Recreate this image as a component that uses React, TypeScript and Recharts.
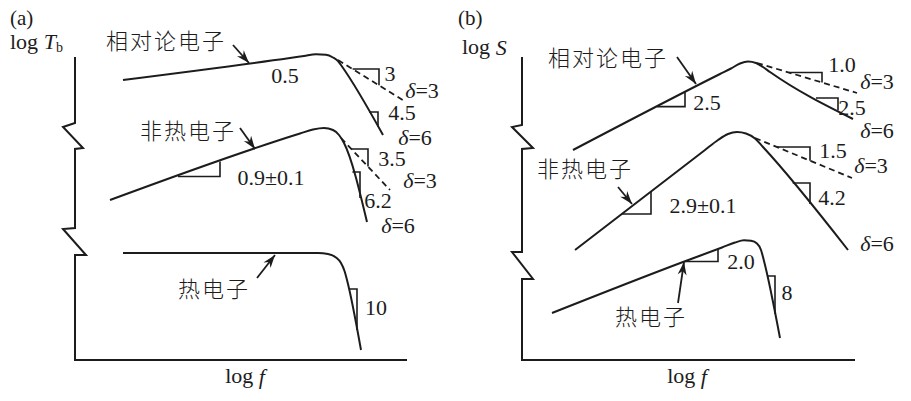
import { LineChart, Line, XAxis, YAxis, Scatter } from "recharts";

type Pt = { x: number; y: number };
type Tag = { x: number; y: number; text: string; sub?: string };

// units: log f and log T / log S in arbitrary decades (schematic)

// ---- panel (a): brightness temperature ----
const axisA: Pt[] = [
  { x: 0, y: 30.3 }, { x: 0, y: 23.7 }, { x: -1.2, y: 23.3 }, { x: 0.8, y: 21.2 },
  { x: 0, y: 21.1 }, { x: 0, y: 13.2 }, { x: -1.2, y: 13.1 }, { x: 1.1, y: 10.5 },
  { x: 0, y: 10.5 }, { x: 0, y: 0 }, { x: 33.2, y: 0 },
];
const relA: Pt[] = [
  { x: 4.8, y: 28.0 }, { x: 21.5, y: 30.2 }, { x: 22.9, y: 30.4 }, { x: 24.1, y: 30.57 },
  { x: 25.1, y: 30.52 }, { x: 25.8, y: 30.25 }, { x: 26.3, y: 29.9 }, { x: 26.7, y: 29.35 },
  { x: 30.8, y: 22.5 },
];
const relA3: Pt[] = [{ x: 26.3, y: 30.0 }, { x: 33.1, y: 25.8 }];
const nthA: Pt[] = [
  { x: 3.5, y: 16.0 }, { x: 22.5, y: 22.65 }, { x: 23.8, y: 23.05 }, { x: 24.9, y: 23.2 },
  { x: 25.8, y: 23.0 }, { x: 26.4, y: 22.5 }, { x: 26.9, y: 21.7 }, { x: 29.2, y: 13.8 },
];
const nthA3: Pt[] = [{ x: 26.6, y: 22.2 }, { x: 31.5, y: 17.0 }];
const thA: Pt[] = [
  { x: 4.8, y: 10.7 }, { x: 24.3, y: 10.7 }, { x: 25.3, y: 10.6 }, { x: 26.1, y: 10.25 },
  { x: 26.6, y: 9.7 }, { x: 26.95, y: 8.9 }, { x: 27.2, y: 8.0 }, { x: 28.6, y: 1.0 },
];
const slopesA: Pt[][] = [
  [{ x: 27.76, y: 29.1 }, { x: 30.4, y: 29.1 }, { x: 30.4, y: 27.47 }],
  [{ x: 29.4, y: 24.8 }, { x: 30.3, y: 24.8 }, { x: 30.3, y: 23.35 }],
  [{ x: 10.3, y: 18.35 }, { x: 14.5, y: 18.35 }, { x: 14.5, y: 19.85 }],
  [{ x: 27.64, y: 21.1 }, { x: 29.3, y: 21.1 }, { x: 29.3, y: 19.34 }],
  [{ x: 27.74, y: 18.8 }, { x: 28.5, y: 18.8 }, { x: 28.5, y: 16.2 }],
  [{ x: 27.38, y: 7.1 }, { x: 28.2, y: 7.1 }, { x: 28.2, y: 3.0 }],
];
const arrowsA: Pt[][] = [
  [{ x: 15.8, y: 31.5 }, { x: 17.4, y: 29.7 }],
  [{ x: 16.5, y: 23.2 }, { x: 18.0, y: 21.1 }],
  [{ x: 18.2, y: 8.2 }, { x: 20.0, y: 10.5 }],
];
const numsA: Tag[] = [
  { x: 21.0, y: 28.5, text: "0.5" },
  { x: 31.5, y: 28.7, text: "3" },
  { x: 32.7, y: 24.8, text: "4.5" },
  { x: 19.6, y: 18.3, text: "0.9±0.1" },
  { x: 31.7, y: 20.15, text: "3.5" },
  { x: 30.3, y: 16.0, text: "6.2" },
  { x: 30.1, y: 5.3, text: "10" },
];
const deltasA: Tag[] = [
  { x: 34.7, y: 27.0, text: "3" },
  { x: 34.0, y: 22.3, text: "6" },
  { x: 34.5, y: 18.0, text: "3" },
  { x: 32.3, y: 13.5, text: "6" },
];
const namesA: Tag[] = [
  { x: 9.1, y: 32.15, text: "相对论电子" },
  { x: 11.3, y: 23.1, text: "非热电子" },
  { x: 13.9, y: 7.3, text: "热电子" },
];
const tagA: Tag[] = [{ x: -6.5, y: 34.2, text: "(a)" }];
const yLabA: Tag[] = [{ x: -6.5, y: 31.9, text: "T", sub: "b" }];
const xLabA: Tag[] = [{ x: 17.0, y: -1.56, text: "f" }];

// ---- panel (b): flux density ----
const axisB: Pt[] = [
  { x: 0, y: 30.3 }, { x: 0, y: 23.5 }, { x: -1.0, y: 23.3 }, { x: 1.1, y: 21.2 },
  { x: 0, y: 21.1 }, { x: 0, y: 10.8 }, { x: -1.0, y: 10.8 }, { x: 1.1, y: 8.1 },
  { x: 0, y: 8.1 }, { x: 0, y: 0 }, { x: 33.3, y: 0 },
];
const relB: Pt[] = [
  { x: 5.1, y: 21.0 }, { x: 19.8, y: 28.6 }, { x: 20.9, y: 29.15 }, { x: 21.8, y: 29.65 },
  { x: 22.6, y: 29.85 }, { x: 23.4, y: 29.7 }, { x: 24.1, y: 29.3 }, { x: 24.8, y: 28.8 },
  { x: 33.1, y: 24.1 },
];
const relB3: Pt[] = [{ x: 23.5, y: 29.7 }, { x: 33.5, y: 26.7 }];
const nthB: Pt[] = [
  { x: 5.3, y: 11.0 }, { x: 18.3, y: 21.0 }, { x: 19.6, y: 22.0 }, { x: 20.6, y: 22.6 },
  { x: 21.5, y: 22.8 }, { x: 22.4, y: 22.65 }, { x: 23.3, y: 22.15 }, { x: 24.1, y: 21.3 },
  { x: 32.6, y: 11.0 },
];
const nthB3: Pt[] = [{ x: 23.3, y: 22.2 }, { x: 33.0, y: 18.2 }];
const thB: Pt[] = [
  { x: 3.0, y: 4.7 }, { x: 16.1, y: 9.8 }, { x: 20.0, y: 11.25 }, { x: 21.3, y: 11.75 },
  { x: 22.2, y: 11.97 }, { x: 22.9, y: 11.92 }, { x: 23.5, y: 11.65 }, { x: 23.9, y: 11.0 },
  { x: 24.2, y: 9.9 }, { x: 25.8, y: 2.2 },
];
const slopesB: Pt[][] = [
  [{ x: 13.5, y: 25.34 }, { x: 16.3, y: 25.34 }, { x: 16.3, y: 26.79 }],
  [{ x: 26.7, y: 28.75 }, { x: 30.0, y: 28.75 }, { x: 30.0, y: 27.75 }],
  [{ x: 29.4, y: 26.2 }, { x: 31.6, y: 26.2 }, { x: 31.6, y: 24.95 }],
  [{ x: 25.5, y: 21.3 }, { x: 28.8, y: 21.3 }, { x: 28.8, y: 19.93 }],
  [{ x: 27.07, y: 17.7 }, { x: 28.8, y: 17.7 }, { x: 28.8, y: 15.6 }],
  [{ x: 10.0, y: 14.6 }, { x: 12.9, y: 14.6 }, { x: 12.9, y: 16.84 }],
  [{ x: 16.3, y: 9.85 }, { x: 19.6, y: 9.85 }, { x: 19.6, y: 11.1 }],
  [{ x: 24.51, y: 8.4 }, { x: 25.3, y: 8.4 }, { x: 25.3, y: 4.61 }],
];
const arrowsB: Pt[][] = [
  [{ x: 15.5, y: 30.3 }, { x: 17.4, y: 27.6 }],
  [{ x: 9.6, y: 17.3 }, { x: 11.0, y: 15.6 }],
  [{ x: 15.6, y: 5.7 }, { x: 16.2, y: 9.8 }],
];
const numsB: Tag[] = [
  { x: 18.5, y: 25.8, text: "2.5" },
  { x: 32.0, y: 29.6, text: "1.0" },
  { x: 33.0, y: 25.3, text: "2.5" },
  { x: 31.1, y: 21.0, text: "1.5" },
  { x: 31.0, y: 16.3, text: "4.2" },
  { x: 18.1, y: 15.5, text: "2.9±0.1" },
  { x: 21.9, y: 9.9, text: "2.0" },
  { x: 26.5, y: 6.8, text: "8" },
];
const deltasB: Tag[] = [
  { x: 35.5, y: 27.9, text: "3" },
  { x: 35.5, y: 23.0, text: "6" },
  { x: 34.9, y: 19.5, text: "3" },
  { x: 35.5, y: 11.7, text: "6" },
];
const namesB: Tag[] = [
  { x: 8.6, y: 30.4, text: "相对论电子" },
  { x: 6.3, y: 19.3, text: "非热电子" },
  { x: 12.9, y: 4.5, text: "热电子" },
];
const tagB: Tag[] = [{ x: -6.4, y: 34.2, text: "(b)" }];
const yLabB: Tag[] = [{ x: -6.0, y: 31.34, text: "S" }];
const xLabB: Tag[] = [{ x: 16.5, y: -1.56, text: "f" }];

const INK = "#1c1c1c";
const SERIF = "'Liberation Serif', 'Times New Roman', serif";
const CJK = "'Noto Sans CJK SC', 'Noto Sans CJK JP', sans-serif";
const serifStyle = { fontFamily: SERIF };
const cjkStyle = { fontFamily: CJK };

const numShape = (p: any) => (
  <text x={p.cx} y={p.cy} textAnchor="middle" dominantBaseline="central"
    style={serifStyle} fontSize={22} fill={INK}>{p.payload.text}</text>
);
const deltaShape = (p: any) => (
  <text x={p.cx} y={p.cy} textAnchor="middle" dominantBaseline="central"
    style={serifStyle} fontSize={22} fill={INK}>
    <tspan fontStyle="italic">δ</tspan>={p.payload.text}
  </text>
);
const nameShape = (p: any) => (
  <text x={p.cx} y={p.cy} textAnchor="middle" dominantBaseline="central"
    style={cjkStyle} fontSize={22} fontWeight={300} letterSpacing={2} fill={INK}>{p.payload.text}</text>
);
const tagShape = (p: any) => (
  <text x={p.cx} y={p.cy} dominantBaseline="central" style={serifStyle} fontSize={21} fill={INK}>
    {p.payload.text}
  </text>
);
const yLabShape = (p: any) => (
  <text x={p.cx} y={p.cy} dominantBaseline="central" style={serifStyle} fontSize={22} fill={INK}>
    log <tspan fontStyle="italic">{p.payload.text}</tspan>
    {p.payload.sub ? <tspan fontSize={14} dy={6}>{p.payload.sub}</tspan> : null}
  </text>
);
const xLabShape = (p: any) => (
  <text x={p.cx} y={p.cy} textAnchor="middle" dominantBaseline="central"
    style={serifStyle} fontSize={22} fill={INK}>
    log <tspan fontStyle="italic">{p.payload.text}</tspan>
  </text>
);

// arrow head on the last point; both axes use the same px per unit
const arrowDot = (seg: Pt[]) => (p: any) => {
  const { cx, cy, index } = p;
  if (index !== seg.length - 1) return <g key={`n${index}`} />;
  const a = seg[seg.length - 2];
  const b = seg[seg.length - 1];
  const dx = b.x - a.x;
  const dy = -(b.y - a.y);
  const len = Math.hypot(dx, dy);
  const ux = dx / len, uy = dy / len;
  const nx = -uy, ny = ux;
  const L = 13, W = 4.5, N = 9;
  const pts = [
    [cx, cy],
    [cx - L * ux + W * nx, cy - L * uy + W * ny],
    [cx - N * ux, cy - N * uy],
    [cx - L * ux - W * nx, cy - L * uy - W * ny],
  ].map((q) => q.join(",")).join(" ");
  return <polygon key={`h${index}`} points={pts} fill={INK} />;
};

type PanelProps = {
  width: number;
  xDomain: [number, number];
  axis: Pt[];
  solids: Pt[][];
  dashes: Pt[][];
  slopes: Pt[][];
  arrows: Pt[][];
  nums: Tag[];
  deltas: Tag[];
  names: Tag[];
  tag: Tag[];
  yLab: Tag[];
  xLab: Tag[];
};

const Panel = (props: PanelProps) => {
  return (
    <LineChart width={props.width} height={401} margin={{ top: 0, right: 0, bottom: 0, left: 0 }}>
      <XAxis type="number" dataKey="x" domain={props.xDomain} allowDataOverflow hide />
      <YAxis type="number" dataKey="y" domain={[-4.1, 36.0]} allowDataOverflow hide />
      <Line data={props.axis} dataKey="y" type="linear" stroke={INK} strokeWidth={2}
        dot={false} activeDot={false} isAnimationActive={false} />
      {props.solids.map((d, i) => (
        <Line key={`s${i}`} data={d} dataKey="y" type="monotone" stroke={INK} strokeWidth={2}
          dot={false} activeDot={false} isAnimationActive={false} />
      ))}
      {props.dashes.map((d, i) => (
        <Line key={`d${i}`} data={d} dataKey="y" type="linear" stroke={INK} strokeWidth={1.8}
          strokeDasharray="6 4" dot={false} activeDot={false} isAnimationActive={false} />
      ))}
      {props.slopes.map((d, i) => (
        <Line key={`t${i}`} data={d} dataKey="y" type="linear" stroke={INK} strokeWidth={1.6}
          dot={false} activeDot={false} isAnimationActive={false} />
      ))}
      {props.arrows.map((d, i) => (
        <Line key={`a${i}`} data={d} dataKey="y" type="linear" stroke={INK} strokeWidth={1.8}
          dot={arrowDot(d)} activeDot={false} isAnimationActive={false} />
      ))}
      <Scatter data={props.nums} shape={numShape} isAnimationActive={false} />
      <Scatter data={props.deltas} shape={deltaShape} isAnimationActive={false} />
      <Scatter data={props.names} shape={nameShape} isAnimationActive={false} />
      <Scatter data={props.tag} shape={tagShape} isAnimationActive={false} />
      <Scatter data={props.yLab} shape={yLabShape} isAnimationActive={false} />
      <Scatter data={props.xLab} shape={xLabShape} isAnimationActive={false} />
    </LineChart>
  );
};

const App = () => {
  return (
    <div style={{ position: "absolute", left: 0, top: 0, width: 911, height: 401, display: "flex", background: "#fff", fontFamily: SERIF }}>
      <Panel width={455} xDomain={[-7.5, 38.0]} axis={axisA}
        solids={[relA, nthA, thA]} dashes={[relA3, nthA3]} slopes={slopesA} arrows={arrowsA}
        nums={numsA} deltas={deltasA} names={namesA} tag={tagA} yLab={yLabA} xLab={xLabA} />
      <Panel width={456} xDomain={[-6.7, 38.9]} axis={axisB}
        solids={[relB, nthB, thB]} dashes={[relB3, nthB3]} slopes={slopesB} arrows={arrowsB}
        nums={numsB} deltas={deltasB} names={namesB} tag={tagB} yLab={yLabB} xLab={xLabB} />
    </div>
  );
};

export default App;
